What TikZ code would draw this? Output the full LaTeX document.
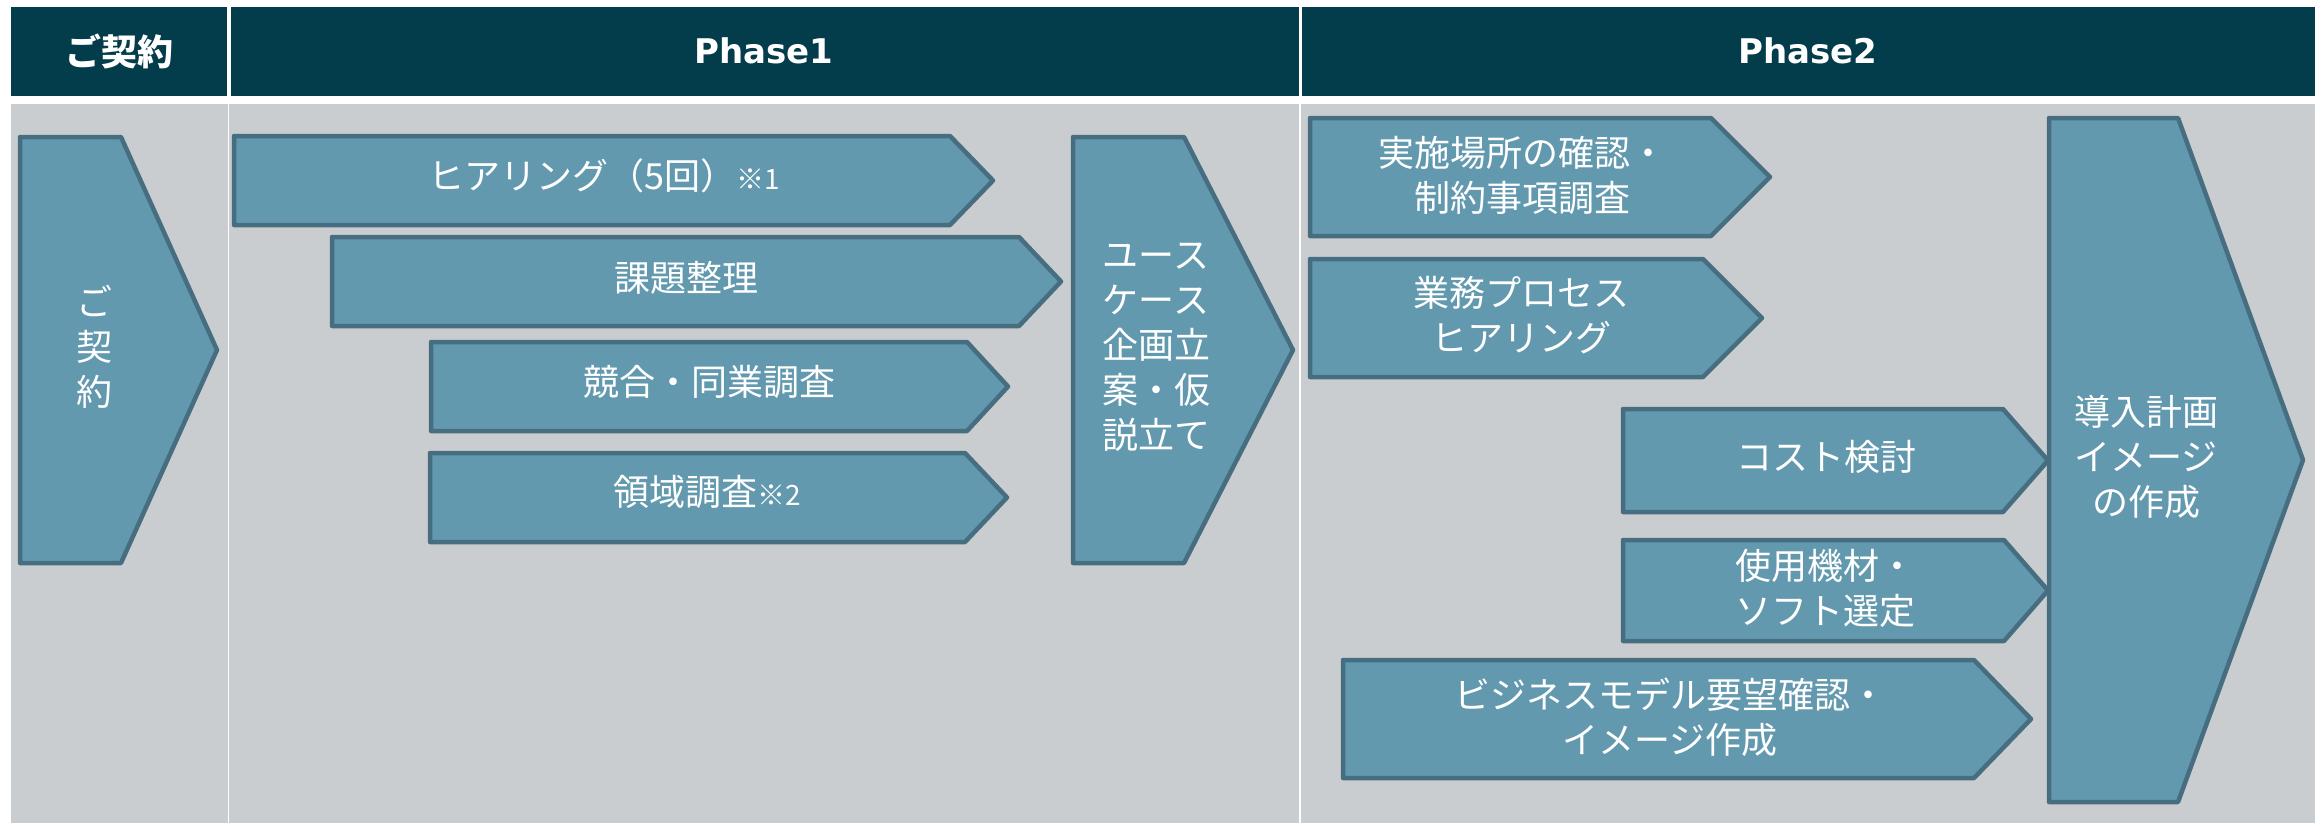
\documentclass[tikz,border=0pt]{standalone}
\usepackage{fontspec}
\newfontfamily\jp{Noto Sans CJK JP}
\newfontfamily\lat{DejaVu Sans}
\definecolor{hdr}{HTML}{033C4B}
\definecolor{bgc}{HTML}{C9CDD0}
\definecolor{afill}{HTML}{6399AE}
\definecolor{aline}{HTML}{466E80}
\newcommand{\pentarrow}[5]{% left, top, shoulder, tip, bottom
  \draw[arr] (#1,#2) -- (#3,#2) -- (#4,{(#2+#5)/2}) -- (#3,#5) -- (#1,#5) -- cycle;}
\newcommand{\smallnote}[1]{{\fontsize{28}{28}\selectfont #1}}
\begin{document}
\begin{tikzpicture}[x=1pt,y=-1pt,
  arr/.style={fill=afill,draw=aline,line width=4.5pt,line join=round},
  lbl/.style={text=white,font={\jp\fontsize{36}{45}\selectfont},align=center,inner sep=0pt},
  hjp/.style={text=white,font={\jp\bfseries\fontsize{36}{40}\selectfont},inner sep=0pt},
  hlat/.style={text=white,font={\lat\bfseries\fontsize{34}{40}\selectfont},inner sep=0pt},
  hcell/.style={fill=hdr,draw=none},
  gcell/.style={fill=bgc,draw=none}]
\useasboundingbox[fill=white] (0,0) rectangle (2323,823);
% header cells
\fill[hcell] (11,7) rectangle (227,96);
\fill[hcell] (230.5,7) rectangle (1298.5,96);
\fill[hcell] (1301.5,7) rectangle (2315,96);
\node[hjp] (h0) at (119,51) {ご契約};
\node[hlat] (h1) at (764,51) {Phase1};
\node[hlat] (h2) at (1808,51) {Phase2};
% gray body
\fill[gcell] (11,104) rectangle (227.5,823);
\fill[gcell] (229,104) rectangle (1299,823);
\fill[gcell] (1300.5,104) rectangle (2315,823);
% arrows
\pentarrow{20}{137}{121}{217}{563}
\pentarrow{234}{136}{950}{993}{225}
\pentarrow{332}{237}{1019}{1061}{326}
\pentarrow{431}{342}{967}{1008}{431}
\pentarrow{430}{453}{965}{1007}{542}
\pentarrow{1073}{137}{1184}{1293}{563}
\pentarrow{1310}{118}{1711}{1770}{236}
\pentarrow{1310}{259}{1703}{1762}{377}
\pentarrow{1623}{409}{2003}{2048}{512}
\pentarrow{1623}{540}{2004}{2048}{641}
\pentarrow{1343}{660}{1974}{2031}{778}
\pentarrow{2049}{118}{2178}{2303}{802}
% labels
\node[lbl] (t0) at (94,347) {ご\\契\\約};
\node[lbl] (t1) at (604,176) {ヒアリング（5回）\smallnote{※1}};
\node[lbl] (t2) at (686,278) {課題整理};
\node[lbl] (t3) at (709,382) {競合・同業調査};
\node[lbl] (t4) at (707,492) {領域調査\smallnote{※2}};
\node[lbl] (t5) at (1156,347) {ユース\\ケース\\企画立\\案・仮\\説立て};
\node[lbl] (t6) at (1522,175) {実施場所の確認・\\制約事項調査};
\node[lbl] (t7) at (1521,315) {業務プロセス\\ヒアリング};
\node[lbl] (t8) at (1826,457) {コスト検討};
\node[lbl] (t9) at (1825,588) {使用機材・\\ソフト選定};
\node[lbl] (t10) at (1670,717) {ビジネスモデル要望確認・\\イメージ作成};
\node[lbl] (t11) at (2146,457) {導入計画\\イメージ\\の作成};
\end{tikzpicture}
\end{document}
